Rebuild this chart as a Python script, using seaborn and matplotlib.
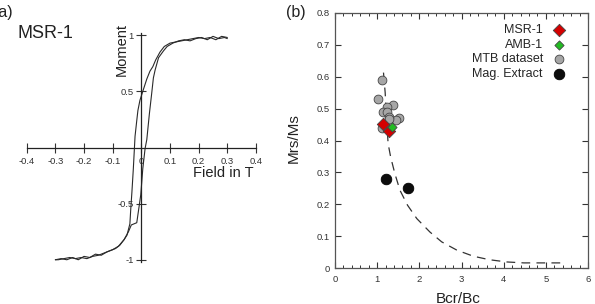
import numpy as np
import pandas as pd
import matplotlib
matplotlib.use("Agg")
import matplotlib.pyplot as plt
import seaborn as sns

# ---------------- data ----------------
# Panel (a): hysteresis loop of MSR-1 (field in T, normalised moment)
field_desc = [0.30, 0.28, 0.26, 0.24, 0.22, 0.20, 0.18, 0.16, 0.14, 0.12, 0.10, 0.08,
              0.065, 0.05, 0.04, 0.03, 0.019, 0.005, -0.005, -0.012, -0.016, -0.022,
              -0.028, -0.033, -0.037, -0.040, -0.050, -0.06, -0.075, -0.09, -0.11,
              -0.13, -0.15, -0.17, -0.19, -0.21, -0.23, -0.25, -0.27, -0.29, -0.30]
moment_desc = [0.98, 0.99, 0.96, 0.98, 0.97, 0.98, 0.97, 0.96, 0.95, 0.94, 0.93, 0.90,
               0.85, 0.78, 0.72, 0.68, 0.61, 0.50, 0.42, 0.33, 0.24, 0.10,
               -0.19, -0.40, -0.55, -0.68, -0.78, -0.82, -0.87, -0.90, -0.92,
               -0.94, -0.96, -0.97, -0.99, -0.98, -0.99, -0.98, -0.99, -1.00, -1.00]
field_asc = [-0.30, -0.28, -0.26, -0.24, -0.22, -0.20, -0.18, -0.16, -0.14, -0.12, -0.10,
             -0.08, -0.06, -0.045, -0.035, -0.016, -0.007, -0.002, 0.005, 0.013, 0.019,
             0.028, 0.036, 0.042, 0.048, 0.06, 0.077, 0.09, 0.11, 0.13, 0.15, 0.17,
             0.19, 0.21, 0.23, 0.25, 0.27, 0.29, 0.30]
moment_asc = [-1.00, -0.99, -1.00, -0.98, -1.00, -0.97, -0.98, -0.95, -0.96, -0.93, -0.91,
              -0.88, -0.82, -0.75, -0.69, -0.67, -0.51, -0.42, -0.19, -0.01, 0.07,
              0.30, 0.48, 0.62, 0.69, 0.80, 0.86, 0.90, 0.93, 0.95, 0.96, 0.95,
              0.97, 0.98, 0.96, 0.99, 0.97, 0.98, 0.97]

# Panel (b): Day-plot style Mrs/Ms vs Bcr/Bc
mtb_bcr = [1.12, 1.03, 1.37, 1.24, 1.13, 1.23, 1.52, 1.45, 1.29, 1.11, 1.27]
mtb_mrs = [0.589, 0.529, 0.51, 0.505, 0.49, 0.49, 0.472, 0.463, 0.474, 0.44, 0.466]
ext_bcr = [1.21, 1.74]
ext_mrs = [0.278, 0.252]
msr_bcr = [1.15, 1.28]
msr_mrs = [0.451, 0.43]
amb_bcr = [1.35]
amb_mrs = [0.443]
curve_bcr = [1.15, 1.19, 1.22, 1.26, 1.32, 1.42, 1.54, 1.72, 1.94, 2.25, 2.53, 2.89,
             3.28, 3.66, 4.07, 4.48, 4.86, 5.41]
curve_mrs = [0.613, 0.55, 0.47, 0.39, 0.348, 0.296, 0.244, 0.197, 0.155, 0.113, 0.082,
             0.056, 0.037, 0.026, 0.019, 0.016, 0.016, 0.016]

x_ticks_a = [-0.4, -0.3, -0.2, -0.1, 0, 0.1, 0.2, 0.3, 0.4]
x_labels_a = ["-0.4", "-0.3", "-0.2", "-0.1", "0", "0.1", "0.2", "0.3", "0.4"]
y_ticks_a = [-1, -0.5, 0.5, 1]
y_labels_a = ["-1", "-0.5", "0.5", "1"]

# ---------------- style ----------------
sns.set_theme(style="ticks")
plt.rcParams["font.family"] = ["Liberation Sans", "DejaVu Sans"]

W, H = 595, 304
fig = plt.figure(figsize=(W / 100, H / 100), dpi=100)


def fx(px):
    return px / W


def fy(py):
    return 1 - py / H


# ---------------- panel (a) ----------------
axa = fig.add_axes([fx(26.7), fy(262), fx(256) - fx(26.7), fy(33) - fy(262)])
dfd = pd.DataFrame({"f": field_desc, "m": moment_desc})
dfa = pd.DataFrame({"f": field_asc, "m": moment_asc})
sns.lineplot(data=dfd, x="f", y="m", sort=False, ax=axa, color="#2a2a2a", lw=0.8, estimator=None)
sns.lineplot(data=dfa, x="f", y="m", sort=False, ax=axa, color="#2a2a2a", lw=0.8, estimator=None)
axa.set_xlim(-0.4, 0.4)
axa.set_ylim(-1.02, 1.02)
axa.spines["left"].set_position(("data", 0))
axa.spines["bottom"].set_position(("data", 0))
axa.spines["top"].set_visible(False)
axa.spines["right"].set_visible(False)
for s in ("left", "bottom"):
    axa.spines[s].set_color("#222222")
    axa.spines[s].set_linewidth(0.9)
axa.set_xticks(x_ticks_a)
axa.set_xticklabels(x_labels_a)
axa.set_yticks(y_ticks_a)
axa.set_yticklabels(y_labels_a)
axa.tick_params(axis="both", direction="inout", length=7, width=0.8, colors="#333333",
                labelsize=6.8, pad=2)
axa.tick_params(axis="x", pad=3)
axa.set_xlabel("")
axa.set_ylabel("")
axa.patch.set_alpha(0)

fig.text(fx(122), fy(50), "Moment", rotation=90, ha="center", va="center", fontsize=10.5,
         color="#222222")
fig.text(fx(223), fy(173), "Field in T", ha="center", va="center", fontsize=10.5,
         color="#222222")
fig.text(fx(45), fy(33), "MSR-1", ha="center", va="center", fontsize=13, color="#222222")
fig.text(fx(13), fy(12), "(a)", ha="right", va="center", fontsize=11.5, color="#222222")

# ---------------- panel (b) ----------------
axb = fig.add_axes([fx(335), fy(268), fx(588) - fx(335), fy(13) - fy(268)])
sns.lineplot(x=curve_bcr, y=curve_mrs, ax=axb, color="#333333", lw=0.9,
             dashes=False, sort=False, estimator=None)
axb.lines[-1].set_dashes([7, 5])
sns.scatterplot(x=mtb_bcr, y=mtb_mrs, ax=axb, color="#a6a6a6", edgecolor="#444444",
                linewidth=0.6, s=40, marker="o", label="MTB dataset", zorder=3)
sns.scatterplot(x=ext_bcr, y=ext_mrs, ax=axb, color="#0d0d0d", edgecolor="#000000",
                linewidth=0.6, s=58, marker="o", label="Mag. Extract", zorder=3)
sns.scatterplot(x=msr_bcr, y=msr_mrs, ax=axb, color="#d40000", edgecolor="#444444",
                linewidth=0.6, s=40, marker="D", label="MSR-1", zorder=4)
sns.scatterplot(x=amb_bcr, y=amb_mrs, ax=axb, color="#22bb22", edgecolor="#444444",
                linewidth=0.6, s=22, marker="D", label="AMB-1", zorder=5)
axb.set_xlim(0, 6)
axb.set_ylim(0, 0.8)
axb.set_xticks(np.arange(0, 7, 1))
axb.set_xticks(np.arange(0, 6.01, 0.2), minor=True)
axb.set_yticks(np.arange(0, 0.81, 0.1))
axb.set_yticklabels(["0", "0.1", "0.2", "0.3", "0.4", "0.5", "0.6", "0.7", "0.8"])
axb.tick_params(axis="both", which="major", direction="in", length=4, width=0.8,
                top=True, right=True, labelsize=6.8, colors="#333333", pad=4)
axb.tick_params(axis="x", which="minor", direction="in", length=2, width=0.7,
                top=True, colors="#333333")
axb.tick_params(axis="x", which="major", pad=5)
for s in axb.spines.values():
    s.set_color("#555555")
    s.set_linewidth(0.9)
axb.set_xlabel("")
axb.set_ylabel("")

handles, labels = axb.get_legend_handles_labels()
order = ["MSR-1", "AMB-1", "MTB dataset", "Mag. Extract"]
hmap = dict(zip(labels, handles))
axb.legend([hmap[k] for k in order], order, loc="upper right", frameon=False,
           markerfirst=False, fontsize=9, labelspacing=0.2, handletextpad=0.3,
           borderaxespad=0.3, bbox_to_anchor=(0.97, 0.99))

fig.text(fx(294), fy(138), "Mrs/Ms", rotation=90, ha="center", va="center", fontsize=11,
         color="#222222")
fig.text(fx(458), fy(299), "Bcr/Bc", ha="center", va="center", fontsize=11,
         color="#222222")
fig.text(fx(296), fy(12), "(b)", ha="center", va="center", fontsize=11.5, color="#222222")

fig.savefig("out.png", dpi=100)
